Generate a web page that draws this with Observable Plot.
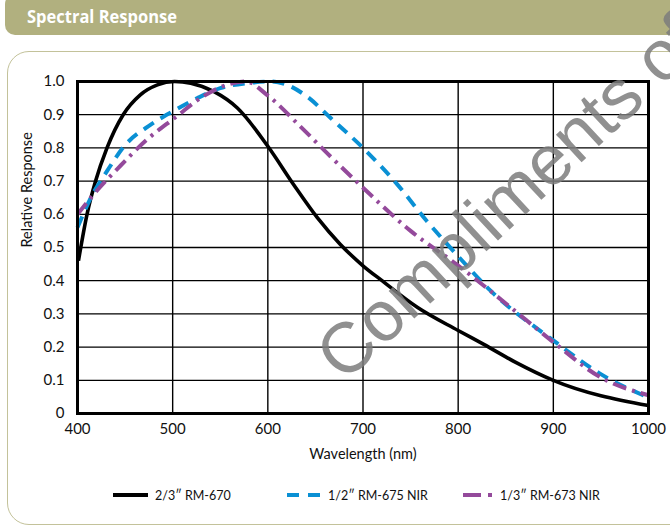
<!DOCTYPE html>
<html>
<head>
<meta charset="utf-8">
<script src="https://cdn.jsdelivr.net/npm/d3@7"></script>
<script src="https://cdn.jsdelivr.net/npm/@observablehq/plot@0.6"></script>
<style>
  html, body { margin: 0; padding: 0; background: #fff; }
  #wrap { position: relative; width: 670px; height: 528px; overflow: hidden; font-family: Lato, "Open Sans", sans-serif; }
  #header { position: absolute; left: 5px; top: -6px; width: 720px; height: 41px; background: #b1b07f; border-radius: 10px; }
  #header span { position: absolute; left: 22px; top: 11px; color: #fff; font-weight: bold; font-size: 17px; font-family: "Open Sans", sans-serif; transform: scaleX(0.97); transform-origin: 0 50%; white-space: nowrap; }
  #box { position: absolute; left: 7px; top: 51px; width: 720px; height: 472px; border: 1.5px solid #c3c29a; border-radius: 22px; }
  #chart { position: absolute; left: 0; top: 0; }
  #legend { position: absolute; left: 0; top: 486px; width: 670px; height: 18px; font-size: 12.5px; color: #111; }
  .item { position: absolute; top: 0; display: flex; align-items: center; white-space: nowrap; }
  .item svg { margin-right: 7px; }
  #wm { position: absolute; left: 328px; top: 366px; font-family: "Liberation Sans", Arial, sans-serif; font-size: 71px; color: #7d7d7d; opacity: 0.85; transform: rotate(-43deg); transform-origin: 0 0; white-space: nowrap; line-height: 0; pointer-events: none; }
</style>
</head>
<body>
<div id="wrap">
  <div id="header"><span>Spectral Response</span></div>
  <div id="box"></div>
  <div id="chart"></div>
  <div id="legend"></div>
  <div id="wm">Compliments of</div>
</div>
<script>
// Series: 2/3" RM-670
const wl670   = [401, 410, 419, 431, 448, 466, 484, 502, 519, 543, 568, 600, 627, 652, 676, 700, 720, 757, 800, 827, 860, 900, 1000];
const resp670 = [0.46, 0.60, 0.70, 0.80, 0.90, 0.96, 0.99, 1.00, 0.995, 0.97, 0.92, 0.805, 0.69, 0.59, 0.51, 0.445, 0.40, 0.32, 0.25, 0.208, 0.155, 0.10, 0.024];
// Series: 1/2" RM-675 NIR
const wl675   = [400, 414, 431, 449, 477, 500, 526, 550, 578, 603, 620, 641, 666, 700, 736, 767, 798, 834, 900, 949, 1000];
const resp675 = [0.56, 0.65, 0.73, 0.805, 0.87, 0.91, 0.95, 0.98, 0.995, 1.00, 0.99, 0.955, 0.89, 0.80, 0.69, 0.58, 0.48, 0.37, 0.22, 0.12, 0.048];
// Series: 1/3" RM-673 NIR
const wl673   = [400, 417, 443, 473, 502, 532, 557, 577, 599, 634, 662, 700, 750, 798, 855, 900, 949, 1000];
const resp673 = [0.60, 0.66, 0.74, 0.825, 0.89, 0.955, 0.99, 1.00, 0.96, 0.865, 0.785, 0.68, 0.55, 0.45, 0.32, 0.215, 0.11, 0.055];

const seriesNames = ["2/3\u2033 RM-670", "1/2\u2033 RM-675 NIR", "1/3\u2033 RM-673 NIR"];
const xTicks = [400, 500, 600, 700, 800, 900, 1000];
const yTicks = [0, 0.1, 0.2, 0.3, 0.4, 0.5, 0.6, 0.7, 0.8, 0.9, 1.0];
const xLabel = "Wavelength (nm)";
const yLabel = "Relative Response";

const styles = [
  {stroke: "#000000", strokeWidth: 3.6, strokeDasharray: null},
  {stroke: "#0a90d4", strokeWidth: 4, strokeDasharray: "12,8"},
  {stroke: "#944a9b", strokeWidth: 4, strokeDasharray: "14,6,3,6"}
];

const toRows = (xs, ys) => xs.map((x, i) => ({x, y: ys[i]}));
const rows = [toRows(wl670, resp670), toRows(wl675, resp675), toRows(wl673, resp673)];

const plot = Plot.plot({
  width: 670,
  height: 470,
  marginLeft: 77,
  marginRight: 22,
  marginTop: 81,
  marginBottom: 57,
  style: {background: "transparent", fontFamily: "Lato, sans-serif", fontSize: "15px", color: "#111"},
  x: {domain: [400, 1000]},
  y: {domain: [0, 1]},
  marks: [
    Plot.gridX(xTicks, {stroke: "#000", strokeOpacity: 1, strokeWidth: 1.4}),
    Plot.gridY(yTicks, {stroke: "#000", strokeOpacity: 1, strokeWidth: 1.3}),
    Plot.axisX(xTicks, {tickSize: 0, tickPadding: 10, fontSize: 15, label: null, tickFormat: d => String(d)}),
    Plot.axisY(yTicks, {tickSize: 0, tickPadding: 13, fontSize: 15, label: null,
      tickFormat: d => d === 0 ? "0" : d.toFixed(1)}),
    ...rows.map((r, i) => Plot.line(r, {x: "x", y: "y", curve: "monotone-x", strokeLinecap: "butt", ...styles[i]})),
    Plot.frame({stroke: "#000", strokeWidth: 3}),
    Plot.text([xLabel], {frameAnchor: "bottom", dy: 45, fontSize: 14.5, fill: "#111"}),
    Plot.text([yLabel], {frameAnchor: "left", dx: -50, rotate: -90, fontSize: 14.5, fill: "#111"})
  ]
});
document.getElementById("chart").appendChild(plot);

// Legend
const legendPos = [113, 287, 463];
const legend = document.getElementById("legend");
seriesNames.forEach((name, i) => {
  const item = document.createElement("div");
  item.className = "item";
  item.style.left = legendPos[i] + "px";
  const s = styles[i];
  const w = i === 0 ? 35 : (i === 1 ? 34 : 30);
  item.innerHTML = `<svg width="${w}" height="18"><line x1="0" x2="${w}" y1="9" y2="9" stroke="${s.stroke}" stroke-width="4" ${s.strokeDasharray ? `stroke-dasharray="${i===1 ? '12,9' : '18,7,4,7'}"` : ""}/></svg><span>${name}</span>`;
  legend.appendChild(item);
});
</script>
</body>
</html>
